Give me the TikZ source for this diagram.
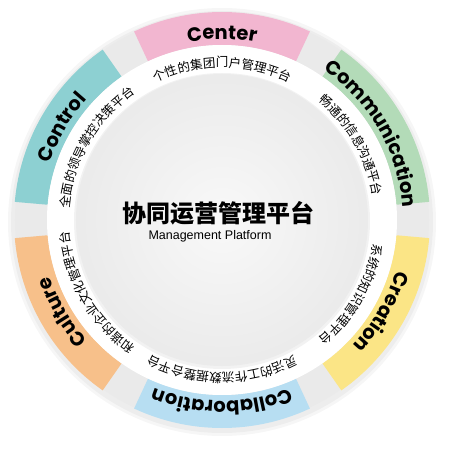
\documentclass[tikz,border=0pt]{standalone}
\usepackage{fontspec}
\setmainfont{Liberation Sans}
\newfontfamily\poppins{Poppins}
\newfontfamily\cjk{Noto Sans CJK SC}
\usetikzlibrary{decorations.text}
\definecolor{cpink}{HTML}{F2B6D0}
\definecolor{cgreen}{HTML}{B3DBB8}
\definecolor{cyellow}{HTML}{FBE586}
\definecolor{cblue}{HTML}{B7DEF2}
\definecolor{corange}{HTML}{F7C08A}
\definecolor{cteal}{HTML}{8DD0D2}
\definecolor{cgap}{HTML}{EAEAEA}
\newcommand\bandfont{\poppins\bfseries\fontsize{19.5}{19.5}\selectfont}
\newcommand\ringfont{\cjk\fontsize{12.5}{12.5}\selectfont}
\newcommand\ringsector[3]{%
  \fill[#1] (#2:175) arc[start angle=#2,end angle=#3,radius=175]
    -- (#3:208) arc[start angle=#3,end angle=#2,radius=208] -- cycle;}
\newcommand\arctext[4]{% font, text, radius, centre angle
  \path[decorate,decoration={text along path,text align=center,text={|#1|#2}}]
    ({#4+45}:#3) arc[start angle={#4+45},end angle={#4-45},radius=#3];}
\begin{document}
\begin{tikzpicture}[x=1pt,y=1pt]
\useasboundingbox[fill=white] (-222,-230) rectangle (228,220);
% soft outer shadow
\fill[black,opacity=.035] (0,-2) circle (214);
\fill[black,opacity=.035] (0,-2) circle (211);
% gray ring
\fill[cgap] (0,0) circle (207);
% coloured bands
\ringsector{cpink}{65}{115}
\ringsector{cgreen}{5}{55}
\ringsector{cyellow}{-55}{-5}
\ringsector{cblue}{-115}{-65}
\ringsector{corange}{-175}{-125}
\ringsector{cteal}{125}{175}
% white ring and inner disc
\fill[white] (0,0) circle (175);
\fill[black,opacity=.05] (0,-1) circle (148);
\shade[inner color=gray!5,outer color=gray!16] (0,0) circle (146);
% band labels
\arctext{\bandfont}{Center}{181}{90}
\arctext{\bandfont}{Communication}{181}{30}
\arctext{\bandfont}{Creation}{181}{-30}
\arctext{\bandfont}{Collaboration}{181}{-90}
\arctext{\bandfont}{Culture}{181}{-150}
\arctext{\bandfont}{Control}{181}{150}
% ring labels
\arctext{\ringfont}{个性的集团门户管理平台}{153}{90}
\arctext{\ringfont}{畅通的信息沟通平台}{153}{30}
\arctext{\ringfont}{系统的知识管理平台}{153}{-30}
\arctext{\ringfont}{灵活的工作流数据整合平台}{153}{-90}
\arctext{\ringfont}{和谐的企业文化管理平台}{153}{-150}
\arctext{\ringfont}{全面的领导掌控决策平台}{153}{150}
% centre
\node[inner sep=0pt] (title) at (-3,7) {\cjk\bfseries\fontsize{24}{24}\selectfont 协同运营管理平台};
\node[inner sep=0pt] (subtitle) at (-12,-16) {\fontsize{12.5}{12.5}\selectfont Management Platform};
\end{tikzpicture}
\end{document}
